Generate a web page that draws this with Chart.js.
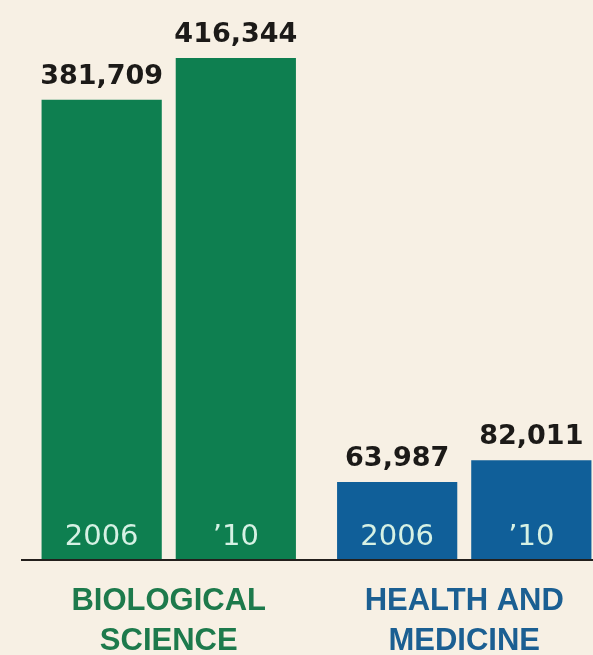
<!DOCTYPE html>
<html>
<head>
<meta charset="utf-8">
<script src="https://cdn.jsdelivr.net/npm/chart.js@4"></script>
<style>
  html, body { margin: 0; padding: 0; background: #f7f0e4; overflow: hidden; }
  #wrap { position: relative; width: 612px; height: 655px; }
</style>
</head>
<body>
<div id="wrap"><canvas id="chart-data"></canvas></div>
<script>
// data
var categories = [["BIOLOGICAL", "SCIENCE"], ["HEALTH AND", "MEDICINE"]];
var yearLabels = ["2006", "\u201910"];
var values2006 = [381709, 63987];
var values2010 = [416344, 82011];

var barColors = ["#0e7f50", "#105f99"];
var categoryColors = ["#1d7a4c", "#1b5f92"];

var labelsPlugin = {
    id: "barLabels",
    afterDatasetsDraw: function (chart) {
        var ctx = chart.ctx;
        var area = chart.chartArea;
        ctx.save();
        // baseline
        ctx.strokeStyle = "#231f1c";
        ctx.lineWidth = 2;
        ctx.beginPath();
        ctx.moveTo(area.left, area.bottom + 1);
        ctx.lineTo(area.right, area.bottom + 1);
        ctx.stroke();

        ctx.textAlign = "center";
        ctx.textBaseline = "alphabetic";
        chart.data.datasets.forEach(function (ds, di) {
            var meta = chart.getDatasetMeta(di);
            meta.data.forEach(function (bar, i) {
                // value above bar
                ctx.fillStyle = "#1c1a18";
                ctx.font = "bold 27px 'DejaVu Sans'";
                ctx.fillText(ds.data[i].toLocaleString("en-US"), bar.x, bar.y - 16);
                // year inside bar
                ctx.fillStyle = "#d6f1e4";
                ctx.font = "29px 'DejaVu Sans'";
                ctx.fillText(yearLabels[di], bar.x, bar.base - 14);
            });
        });

        // category names under the axis
        var xScale = chart.scales.x;
        ctx.font = "bold 31px 'Liberation Sans'";
        categories.forEach(function (lines, i) {
            var cx = xScale.getPixelForValue(i);
            ctx.fillStyle = categoryColors[i];
            lines.forEach(function (line, li) {
                ctx.fillText(line, cx, area.bottom + 51 + li * 40);
            });
        });
        ctx.restore();
    }
};

var ctx = document.getElementById("chart-data").getContext("2d");
var chart = new Chart(ctx, {
    type: "bar",
    data: {
        labels: categories.map(function (c) { return c.join(" "); }),
        datasets: [
            {
                label: yearLabels[0],
                data: values2006,
                backgroundColor: barColors,
                borderWidth: 0,
                categoryPercentage: 0.908,
                barPercentage: 0.896,
            },
            {
                label: yearLabels[1],
                data: values2010,
                backgroundColor: barColors,
                borderWidth: 0,
                categoryPercentage: 0.908,
                barPercentage: 0.896,
            },
        ],
    },
    options: {
        responsive: true,
        maintainAspectRatio: false,
        animation: false,
        devicePixelRatio: 1,
        layout: {
            padding: { left: 21, right: 0, top: 0, bottom: 96 },
        },
        plugins: {
            legend: { display: false },
            tooltip: { enabled: false },
        },
        scales: {
            x: { display: false },
            y: { display: false, min: 0, max: 464560 },
        },
    },
    plugins: [labelsPlugin],
});
</script>
</body>
</html>
